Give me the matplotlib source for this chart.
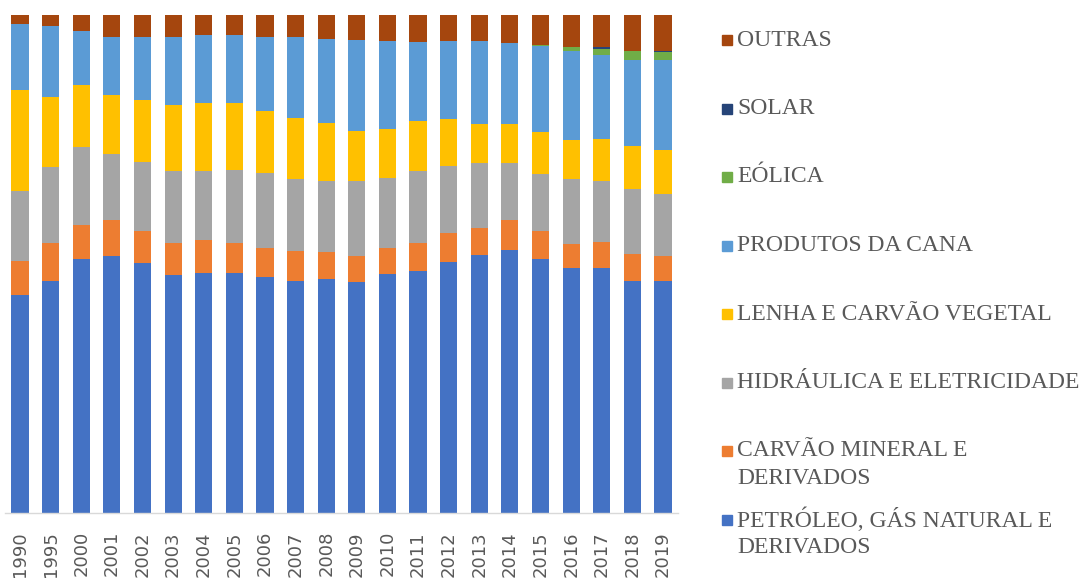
import numpy as np
import matplotlib.pyplot as plt

anos = ["1990", "1995", "2000", "2001", "2002", "2003", "2004", "2005", "2006", "2007", "2008",
        "2009", "2010", "2011", "2012", "2013", "2014", "2015", "2016", "2017", "2018", "2019"]

petroleo = [43.8, 46.6, 50.9, 51.7, 50.3, 47.8, 48.1, 48.1, 47.5, 46.6, 46.9,
            46.4, 47.9, 48.6, 50.5, 51.8, 52.9, 51.0, 49.1, 49.1, 46.6, 46.6]
carvao = [6.9, 7.6, 6.9, 7.2, 6.3, 6.4, 6.7, 6.0, 5.7, 6.0, 5.5,
          5.2, 5.4, 5.7, 5.7, 5.5, 5.9, 5.6, 5.0, 5.2, 5.6, 5.1]
hidraulica = [13.9, 15.3, 15.6, 13.3, 13.8, 14.6, 13.9, 14.7, 15.1, 14.5, 14.1,
              15.0, 13.9, 14.5, 13.6, 12.9, 11.4, 11.4, 12.9, 12.3, 12.9, 12.5]
lenha = [20.3, 14.2, 12.5, 11.8, 12.5, 13.2, 13.5, 13.4, 12.5, 12.2, 11.7,
         10.0, 9.9, 10.0, 9.3, 8.0, 8.0, 8.4, 8.0, 8.4, 8.8, 8.9]
cana = [13.3, 14.1, 10.8, 11.7, 12.7, 13.7, 13.7, 13.7, 14.9, 16.2, 16.9,
        18.3, 17.7, 15.9, 15.8, 16.6, 16.2, 17.2, 17.7, 16.9, 17.3, 18.0]
eolica = [0, 0, 0, 0, 0, 0, 0, 0, 0, 0, 0,
          0, 0, 0, 0, 0, 0, 0.3, 0.9, 1.2, 1.7, 1.7]
solar = [0, 0, 0, 0, 0, 0, 0, 0, 0, 0, 0,
         0, 0, 0, 0, 0, 0, 0, 0, 0.4, 0.1, 0.2]
outras = [1.8, 2.3, 3.2, 4.4, 4.4, 4.4, 4.0, 4.0, 4.4, 4.4, 4.8,
          5.0, 5.2, 5.4, 5.2, 5.2, 5.6, 6.0, 6.4, 6.4, 7.2, 7.2]

series = [petroleo, carvao, hidraulica, lenha, cana, eolica, solar, outras]
nomes = ["PETRÓLEO, GÁS NATURAL E\nDERIVADOS", "CARVÃO MINERAL E\nDERIVADOS",
         "HIDRÁULICA E ELETRICIDADE", "LENHA E CARVÃO VEGETAL", "PRODUTOS DA CANA",
         "EÓLICA", "SOLAR", "OUTRAS"]
cores = ["#4472C4", "#ED7D31", "#A5A5A5", "#FFC000", "#5B9BD5", "#70AD47", "#264478", "#A5460E"]

fig = plt.figure(figsize=(10.87, 5.83), dpi=100)
ax = fig.add_axes([4.7 / 1087, 70 / 583, 673.6 / 1087, 498 / 583])

x = np.arange(len(anos))
dados = np.array(series, dtype=float)
dados = dados / dados.sum(axis=0) * 100
base = np.zeros(len(anos))
for i in range(len(series)):
    ax.bar(x, dados[i], 0.56, bottom=base, color=cores[i], edgecolor="none")
    base += dados[i]

ax.set_xlim(-0.5, len(anos) - 0.5)
ax.set_ylim(0, 100)
ax.set_yticks([])
ax.set_xticks(x)
ax.set_xticklabels(anos, rotation=90, va="top", ha="center", color="#595959", fontsize=13)
ax.tick_params(axis="x", length=0, pad=13)
for s in ["top", "right", "left"]:
    ax.spines[s].set_visible(False)
ax.spines["bottom"].set_color("#D9D9D9")
ax.spines["bottom"].set_linewidth(1)

# legenda manual (ordem invertida, espaçamento fixo como no Excel)
for k, i in enumerate(range(len(series) - 1, -1, -1)):
    yc = 583 - (40 + 68.5 * k)
    fig.patches.append(plt.Rectangle((722 / 1087, (yc - 5) / 583), 10 / 1087, 10 / 583,
                                     transform=fig.transFigure, color=cores[i]))
    for j, linha in enumerate(nomes[i].split("\n")):
        fig.text(737 / 1087, (yc - 28 * j) / 583, linha, va="center", ha="left",
                 fontsize=17, family="Liberation Serif", color="#595959")

fig.savefig("out.png", dpi=100)
